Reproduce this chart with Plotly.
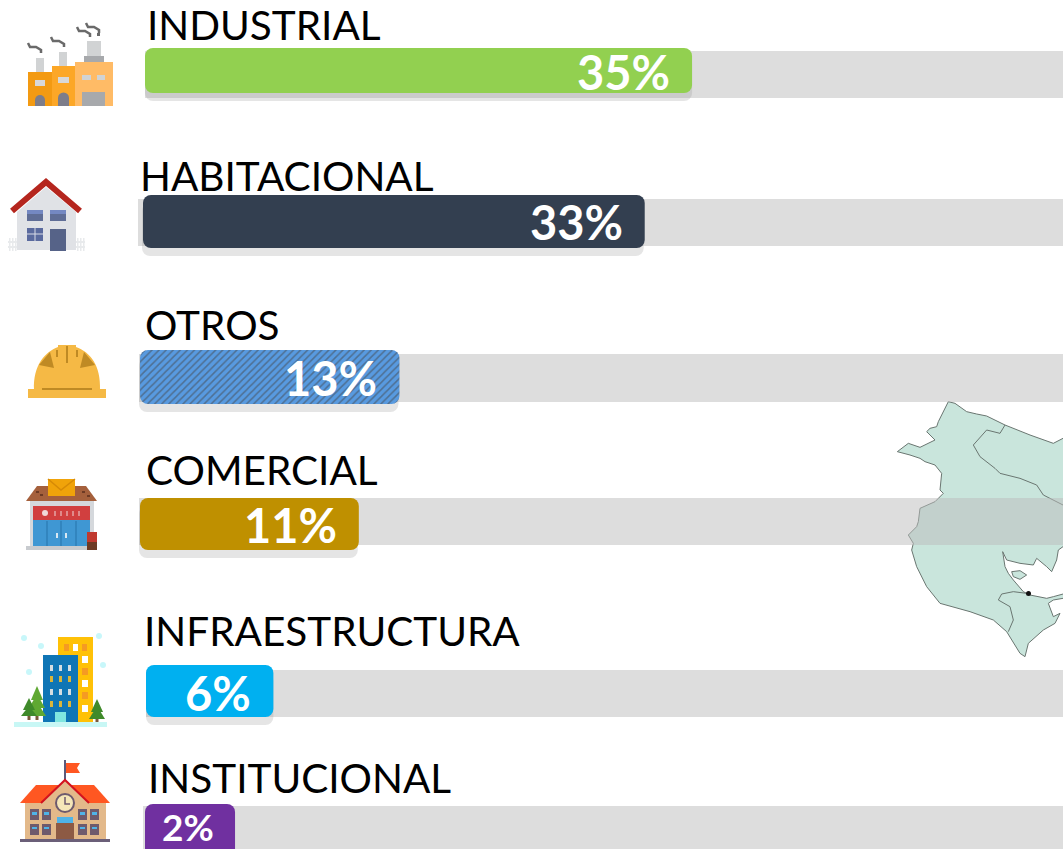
import plotly.graph_objects as go

# ---------- data ----------
categories = ["INDUSTRIAL", "HABITACIONAL", "OTROS", "COMERCIAL", "INFRAESTRUCTURA", "INSTITUCIONAL"]
shares = [35, 33, 13, 11, 6, 2]
# drawn bar lengths (the source infographic is not to scale)
drawn_lengths = [35.0, 32.1, 16.6, 14.0, 8.15, 5.76]
colors = ["#92d050", "#333f50", "#589ae0", "#bf9000", "#00b0f0", "#7030a0"]

# ---------- layout constants (pixels in the 1063x849 page) ----------
W, H = 1063, 849
PX_PER_UNIT = 15.63
ORIGIN = 145


def X(px):
    return (px - ORIGIN) / PX_PER_UNIT


fill_start = [145, 143, 140, 140, 146, 145]
fill_top = [48, 195, 350, 498, 665, 804]
fill_bottom = [93, 248, 404, 550, 717, 858]
track_start = [145, 138, 139, 139, 146, 143]
track_top = [51, 199, 354, 498, 670, 806]
track_bottom = [98, 246, 402, 545, 717, 858]
label_x = [146, 139, 144, 145, 143, 147]
label_y = [24, 175, 324, 469, 630, 777]
pct_right = [672, 625, 379, 339, 253, 216]
pct_y = [72, 222, 378, 525, 693, 826]
pct_size = [47, 47, 47, 47, 47, 37]

fig = go.Figure()

# track
fig.add_trace(go.Bar(
    orientation="h",
    y=[(a + b) / 2 for a, b in zip(track_top, track_bottom)],
    width=[b - a for a, b in zip(track_top, track_bottom)],
    base=[X(s) for s in track_start],
    x=[X(W + 5) - X(s) for s in track_start],
    marker=dict(color="rgba(187,187,187,0.5)", line=dict(width=0)),
    hoverinfo="skip",
))
# soft shadow below each bar
fig.add_trace(go.Bar(
    orientation="h",
    y=[(a + b) / 2 + 8 for a, b in zip(fill_top, fill_bottom)],
    width=[b - a for a, b in zip(fill_top, fill_bottom)],
    base=[X(s - (1 if i in (1, 2, 3) else 0)) for i, s in enumerate(fill_start)],
    x=drawn_lengths,
    marker=dict(color="rgba(150,150,150,0.25)", cornerradius=8, line=dict(width=0)),
    hoverinfo="skip",
))
# value bars
fig.add_trace(go.Bar(
    orientation="h",
    y=[(a + b) / 2 for a, b in zip(fill_top, fill_bottom)],
    width=[b - a for a, b in zip(fill_top, fill_bottom)],
    base=[X(s) for s in fill_start],
    x=drawn_lengths,
    marker=dict(
        color=colors,
        cornerradius=8,
        line=dict(width=0),
        pattern=dict(
            shape=["", "", "/", "", "", ""],
            fgcolor="#3a74b4",
            size=5,
            solidity=0.3,
        ),
    ),
    customdata=shares,
    hovertemplate="%{customdata}%<extra></extra>",
))

# ---------- map (outline) ----------
map_zx = [205, 225, 260, 290, 320, 375, 450, 520, 549, 575, 575, 549, 535, 530, 515, 500, 470, 460, 420, 380, 368,
          375, 385, 400, 430, 450, 500, 520, 575, 575, 549, 520, 505, 520, 540, 525, 490, 445, 435, 420, 380, 340,
          270, 180, 140, 110, 95, 100, 85, 110, 115, 120, 165, 190, 180, 185, 165, 135, 120, 90, 52, 85, 120, 165,
          140, 150, 170, 175]
map_zy = [35, 40, 65, 72, 78, 105, 135, 160, 145, 140, 470, 470, 480, 510, 545, 530, 505, 525, 520, 510, 485,
          530, 550, 570, 605, 615, 625, 620, 605, 625, 625, 630, 640, 680, 670, 700, 720, 760, 800, 790, 725, 690,
          665, 640, 590, 530, 480, 460, 435, 410, 395, 355, 335, 310, 300, 250, 225, 215, 205, 195, 185, 160, 172,
          150, 125, 115, 110, 95]
border_a_zx = [375, 360, 320, 280, 300, 345, 360, 420, 470, 490, 549, 575]
border_a_zy = [105, 130, 120, 165, 200, 235, 250, 265, 285, 315, 345, 350]
border_b_zx = [355, 390, 400, 385]
border_b_zy = [630, 650, 690, 725]
border_c_zx = [355, 365, 400, 440]
border_c_zy = [630, 612, 605, 610]
isle_zx = [395, 420, 440, 420, 400]
isle_zy = [545, 542, 555, 568, 560]


def path(xs, ys, closed=False):
    d = "M" + " L".join(f"{X(x):.4f},{y:.2f}" for x, y in zip(xs, ys))
    return d + (" Z" if closed else "")


def zpath(zx, zy, closed=False):
    return path([880 + v / 3 for v in zx], [390 + v / 3 for v in zy], closed)


shapes = []
MAP_LINE = "#6a7671"
shapes.append(dict(type="path", path=zpath(map_zx, map_zy, True), fillcolor="#c9e5dc",
                   line=dict(color=MAP_LINE, width=1), layer="below"))
shapes.append(dict(type="path", path=zpath(isle_zx, isle_zy, True), fillcolor="#c9e5dc",
                   line=dict(color=MAP_LINE, width=1), layer="below"))
for zx, zy in [(border_a_zx, border_a_zy), (border_b_zx, border_b_zy), (border_c_zx, border_c_zy)]:
    shapes.append(dict(type="path", path=zpath(zx, zy), line=dict(color=MAP_LINE, width=1), layer="below"))
shapes.append(dict(type="circle", xref="x", yref="y", x0=X(1026), x1=X(1031), y0=591, y1=596,
                   fillcolor="#111111", line=dict(width=0), layer="below"))


# ---------- icon helpers (decoration) ----------
def rect(x0, y0, x1, y1, c):
    shapes.append(dict(type="rect", x0=X(x0), x1=X(x1), y0=y0, y1=y1, fillcolor=c, line=dict(width=0), layer="above"))


def poly(pts, c):
    shapes.append(dict(type="path", path=path([p[0] for p in pts], [p[1] for p in pts], True),
                       fillcolor=c, line=dict(width=0), layer="above"))


def line(pts, c, w):
    shapes.append(dict(type="path", path=path([p[0] for p in pts], [p[1] for p in pts]),
                       line=dict(color=c, width=w), layer="above"))


def disc(cx, cy, r, c, lc=None, lw=0):
    shapes.append(dict(type="circle", x0=X(cx - r), x1=X(cx + r), y0=cy - r, y1=cy + r, fillcolor=c,
                       line=dict(color=lc or c, width=lw), layer="above"))


# factory
rect(36, 58, 44, 72, "#d1d3d4")
rect(59, 52, 67, 66, "#d1d3d4")
rect(87, 41, 101, 58, "#d1d3d4")
rect(84, 56, 104, 62, "#a7a9ac")
rect(28, 72, 52, 106, "#f39a12")
rect(52, 66, 75, 106, "#fca727")
rect(75, 62, 113, 106, "#ffbb66")
rect(35, 80, 45, 86, "#d8d8d8")
rect(58, 77, 69, 83, "#d8d8d8")
rect(82, 75, 91, 80, "#d1d3d4")
rect(97, 75, 105, 80, "#d1d3d4")
rect(35, 100, 45, 106, "#7d7d8a")
disc(40, 100, 5, "#7d7d8a")
rect(58, 98, 69, 106, "#7d7d8a")
disc(63.5, 98, 5.5, "#7d7d8a")
rect(82, 92, 105, 106, "#a7a9ac")
for sx, sy in [(28, 43), (51, 37), (77, 27), (86, 23)]:
    line([(sx, sy), (sx + 2, sy + 4), (sx + 8, sy + 4), (sx + 13, sy + 7), (sx + 13, sy + 10)], "#6a6a6a", 2.5)
rect(97, 33, 100, 36, "#6a6a6a")

# house
for fx in (9, 12, 15, 77, 80, 83):
    rect(fx, 238, fx + 1.5, 251, "#e8eaec")
rect(8, 241, 17, 243, "#e8eaec")
rect(8, 246, 17, 248, "#e8eaec")
rect(76, 241, 85, 243, "#e8eaec")
rect(76, 246, 85, 248, "#e8eaec")
poly([(17, 212), (46, 187), (76, 212), (76, 250), (17, 250)], "#e0e2e6")
line([(12, 211), (46, 182), (80, 211)], "#b5261e", 6)
rect(27, 210, 43, 221, "#5f6d96")
rect(27, 210, 43, 214, "#7488c2")
rect(50, 210, 66, 221, "#5f6d96")
rect(50, 210, 66, 214, "#7488c2")
rect(27, 228, 43, 241, "#5a6a9e")
line([(35, 228), (35, 241)], "#d8dbe6", 1)
line([(27, 234), (43, 234)], "#d8dbe6", 1)
rect(50, 229, 66, 251, "#566388")

# helmet
shapes.append(dict(type="path",
                   path=f"M{X(34):.3f},390 C{X(33):.3f},365 {X(45):.3f},352 {X(58):.3f},347 "
                        f"L{X(58):.3f},345 L{X(76):.3f},345 L{X(76):.3f},347 "
                        f"C{X(90):.3f},352 {X(101):.3f},365 {X(100):.3f},390 Z",
                   fillcolor="#f5b945", line=dict(width=0), layer="above"))
rect(28, 389, 106, 398, "#f5b945")
line([(42, 389), (92, 389)], "#bf8a24", 2)
line([(67, 346), (67, 363)], "#bf8a24", 2)
line([(57, 350), (57, 357)], "#bf8a24", 2)
line([(77, 350), (77, 357)], "#bf8a24", 2)
poly([(39, 365), (50, 352), (54, 368)], "#bf8a24")
poly([(80, 368), (84, 352), (95, 365)], "#bf8a24")

# shop
rect(30, 501, 94, 547, "#d5d8dc")
poly([(26, 501), (37, 486), (86, 486), (97, 501)], "#a5603c")
for dx, dy in [(36, 491), (40, 494), (82, 491), (87, 495)]:
    rect(dx, dy, dx + 3, dy + 2, "#6d3a24")
rect(48, 479, 75, 496, "#f0a30a")
line([(48, 479), (61, 490), (75, 479)], "#d68a06", 1.5)
rect(33, 506, 90, 520, "#d13f3f")
rect(33, 520, 90, 546, "#3f97d3")
disc(45, 513, 3, "#f0d8d8")
for dx in (54, 60, 66, 72, 78):
    rect(dx, 511, dx + 2, 516, "#e08a8a")
for dx in (47, 61, 76):
    line([(dx, 521), (dx, 546)], "#2f7fb8", 1.5)
rect(56, 533, 58, 538, "#d9e8f2")
rect(65, 533, 67, 538, "#d9e8f2")
rect(26, 546, 97, 550, "#c8cbcf")
rect(87, 532, 97, 542, "#c0392f")
rect(87, 542, 97, 550, "#6d3a24")

# towers
for cx, cy in [(24, 638), (41, 646), (99, 636), (103, 665), (29, 672)]:
    disc(cx, cy, 3, "#c8f7fa")
rect(58, 637, 93, 724, "#ffc107")
for wx, c in [(64, "#f59a23"), (73, "#ffffff"), (82, "#f59a23")]:
    rect(wx, 644, wx + 5, 651, c)
for wy, c in [(656, "#ffffff"), (668, "#f59a23"), (680, "#ffffff"), (692, "#f59a23"), (705, "#ffffff")]:
    rect(82, wy, 88, wy + 7, c)
rect(43, 655, 78, 724, "#0f75b5")
for wi, wy in enumerate([665, 676, 689, 701]):
    for wx in [50, 59, 68]:
        rect(wx, wy, wx + 3, wy + 6, "#d5dde2" if wi % 2 == 0 else "#d9b53a")
rect(55, 712, 66, 724, "#80e6df")
for tx, tiers, tbot, c in [(37, [(686, 700, 6), (694, 708, 8), (702, 716, 9)], 716, "#5fa832"),
                           (29, [(698, 710, 6), (706, 716, 8)], 716, "#3f8a2a"),
                           (97, [(699, 712, 6), (706, 719, 8)], 719, "#3f8a2a")]:
    for ty0, ty1, hw in tiers:
        poly([(tx, ty0), (tx + hw, ty1), (tx - hw, ty1)], c)
    rect(tx - 1.5, tbot, tx + 1.5, tbot + 4, "#7a5a3a")
rect(14, 722, 107, 727, "#c8f7f5")

# school
rect(64, 760, 66, 800, "#5d5a7a")
poly([(66, 763), (80, 763), (77, 768), (80, 773), (66, 773)], "#ff5722")
poly([(20, 803), (36, 785), (94, 785), (110, 803)], "#ff5722")
rect(25, 803, 106, 840, "#e3b98a")
poly([(41, 803), (65, 780), (89, 803)], "#e3b98a")
line([(41, 803), (65, 780), (89, 803)], "#d3121f", 2)
disc(65, 803, 9, "#f5e6b8", "#6d5a6e", 2)
line([(65, 797), (65, 804), (70, 804)], "#6d5a6e", 1.5)
for wx in [30, 42, 78, 90]:
    rect(wx, 809, wx + 9, 820, "#6f5a6c")
    rect(wx + 2, 812, wx + 7, 815, "#4fb3e8")
    rect(wx, 824, wx + 9, 835, "#6f5a6c")
    rect(wx + 2, 827, wx + 7, 829, "#4fb3e8")
rect(57, 817, 73, 823, "#4fb3e8")
rect(56, 823, 74, 840, "#8d5a44")
rect(20, 839, 110, 842, "#6b5f78")

# ---------- text ----------
annotations = []
for name, lx, ly in zip(categories, label_x, label_y):
    annotations.append(dict(x=X(lx), y=ly, text=name, showarrow=False, xanchor="left", yanchor="middle",
                            borderpad=0, font=dict(family="Lato", size=40.5, color="#000000")))
for share, rx, py, sz in zip(shares, pct_right, pct_y, pct_size):
    annotations.append(dict(x=X(rx), y=py, text=f"<b>{share}%</b>", showarrow=False, xanchor="right",
                            yanchor="middle", font=dict(family="Lato", size=sz, color="#ffffff")))

fig.update_layout(
    width=W, height=H, autosize=False,
    margin=dict(l=0, r=0, t=0, b=0),
    barmode="overlay",
    showlegend=False,
    paper_bgcolor="#ffffff",
    plot_bgcolor="#ffffff",
    xaxis=dict(range=[X(0), X(W)], visible=False, fixedrange=True),
    yaxis=dict(range=[H, 0], visible=False, fixedrange=True),
    shapes=shapes,
    annotations=annotations,
)
fig.write_html("out.html", config={"displayModeBar": False}, post_script="document.body.style.margin='0';")
